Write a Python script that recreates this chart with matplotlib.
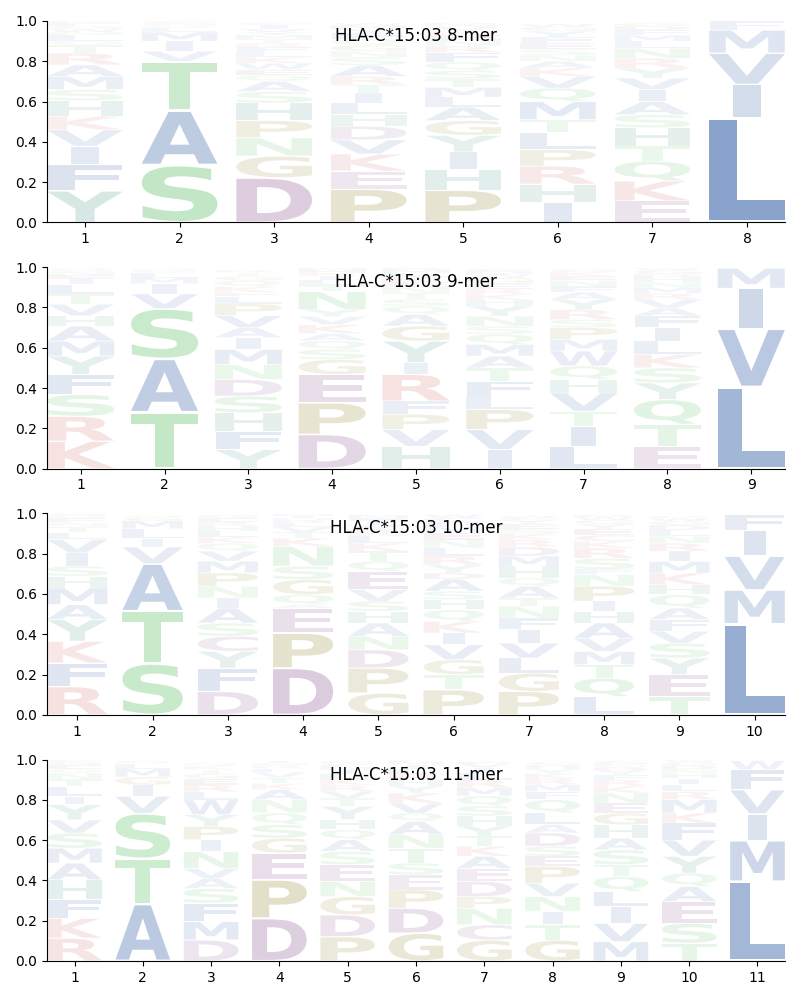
import matplotlib
matplotlib.use('Agg')
import matplotlib.pyplot as plt
from matplotlib.textpath import TextPath
from matplotlib.patches import PathPatch
from matplotlib.font_manager import FontProperties
from matplotlib.transforms import Affine2D


titles = ['HLA-C*15:03 8-mer', 'HLA-C*15:03 9-mer',
          'HLA-C*15:03 10-mer', 'HLA-C*15:03 11-mer']

# letters of each position, bottom -> top, with their heights
letters_8mer = ['YFIVKHSMARTQLNWGEDP', 'SATVIMLQGC', 'DGNPHSAQEWKLFRTMYVIC',
                'PEKVDHLITRASNGQFYMW', 'PHIYGALMTSQFRNEKVWD', 'IHRPLTMQVKANSEFYGW',
                'EKQTHSAIVYRNLMFDG', 'LIVMF']
heights_8mer = [
    [.157, .131, .091, .081, .067, .078, .055, .065, .057, .058, .04, .02, .03, .015, .015, .015, .01, .01, .005],
    [.285, .27, .245, .05, .05, .045, .02, .015, .01, .01],
    [.222, .108, .09, .086, .087, .057, .05, .03, .03, .03, .03, .025, .025, .02, .02, .02, .015, .015, .02, .01],
    [.165, .09, .085, .07, .068, .057, .058, .049, .042, .041, .055, .04, .03, .03, .03, .03, .02, .02, .01],
    [.16, .105, .085, .083, .073, .067, .049, .049, .042, .041, .042, .048, .032, .03, .025, .02, .02, .01, .01],
    [.1, .09, .09, .082, .083, .065, .09, .067, .058, .041, .034, .03, .03, .03, .03, .03, .02, .015],
    [.107, .099, .099, .074, .091, .065, .065, .06, .057, .049, .049, .05, .035, .03, .025, .02, .015],
    [.52, .165, .155, .115, .045],
]

letters_9mer = ['KRSFYMAHVTLIENQ', 'TASVIMLGQ', 'YFHSDNMIAVPLEKQGTR',
                'DPEGSQAKVYNTLIRHM', 'HVPFRIYGAQSTNEKLMD', 'IVPLFTAMQSNYHKREGWDC',
                'LITVHQWMPSRYAFNEKG', 'ETQYSKLIFAVRMNHDGW', 'LVIM']
heights_9mer = [
    [.136, .124, .108, .1, .091, .074, .075, .05, .058, .05, .049, .025, .02, .02, .015],
    [.28, .265, .25, .073, .05, .03, .025, .01, .01],
    [.095, .091, .091, .083, .083, .074, .075, .058, .05, .06, .058, .036, .02, .03, .03, .02, .02, .01],
    [.17, .157, .141, .074, .05, .043, .035, .045, .04, .035, .09, .03, .025, .02, .015, .015, .01],
    [.11, .084, .076, .065, .133, .058, .107, .075, .058, .04, .035, .03, .03, .025, .025, .02, .015, .01],
    [.095, .099, .1, .066, .074, .066, .059, .058, .05, .04, .05, .05, .03, .03, .025, .025, .03, .02, .015, .01],
    [.11, .1, .075, .091, .067, .067, .074, .058, .058, .04, .05, .05, .035, .03, .03, .02, .02, .015],
    [.11, .11, .123, .083, .074, .067, .066, .067, .058, .04, .042, .03, .03, .025, .025, .015, .02, .01],
    [.405, .29, .2, .1],
]

letters_10mer = ['RFKYAMHSIVLTNEQG', 'STAVILMGQ', 'DFYCSAINPMVQKLHREG',
                 'DPEAQGSNKTVLRHIM', 'GPDNAHSVEQTKLRYIFM', 'PTGVIKQHSADYRLNEMFCW',
                 'PGLVIFNTAQHMDRKSEYCW', 'LQTMVAHIPNFSRKCEYGWD', 'TEYSVFAQHKMIRNLDGWP',
                 'LMVIF']
heights_10mer = [
    [.14, .117, .108, .108, .074, .083, .058, .05, .066, .066, .035, .03, .02, .02, .015, .01],
    [.255, .26, .235, .083, .041, .05, .04, .015, .01],
    [.116, .116, .083, .075, .066, .074, .05, .058, .067, .058, .049, .04, .03, .03, .025, .02, .02, .015],
    [.232, .174, .124, .017, .05, .075, .066, .099, .04, .03, .025, .02, .015, .01, .01, .01],
    [.108, .124, .091, .067, .066, .058, .05, .058, .09, .05, .05, .04, .035, .03, .025, .02, .015, .015],
    [.124, .076, .074, .074, .058, .058, .058, .05, .042, .06, .03, .04, .045, .04, .04, .035, .03, .025, .02, .015],
    [.116, .091, .075, .074, .067, .057, .06, .04, .058, .042, .058, .05, .045, .035, .03, .025, .025, .02, .01, .01],
    [.09, .092, .067, .066, .065, .076, .058, .05, .075, .058, .025, .055, .05, .035, .03, .03, .025, .02, .015, .01],
    [.09, .11, .082, .074, .059, .058, .057, .066, .05, .058, .058, .05, .04, .035, .03, .025, .02, .015, .01],
    [.452, .168, .168, .128, .077],
]

letters_11mer = ['RKFHAMSVYILTNQEGP', 'ATSVIGMLQ', 'DMFSAVNIPYWLREGTKQ',
                 'DPEGSQNAKTVLRHI', 'PDGNESAQHYTVRKLIMFWC', 'GDPESTNAQVKYHRLIMF',
                 'GCNPDEAKTYHSQMRLIVF', 'GTINVPESDALQFMRKYHWC', 'MVILQTSAHGENKRFYDWPC',
                 'TSEAQYVFKMRLIHNDGW', 'LMIVFW']
heights_11mer = [
    [.113, .099, .091, .1, .083, .074, .075, .065, .076, .041, .05, .035, .03, .02, .02, .015, .01],
    [.283, .225, .225, .085, .056, .04, .04, .025, .015],
    [.104, .092, .091, .073, .05, .05, .084, .058, .066, .058, .074, .04, .035, .03, .025, .02, .02, .015],
    [.212, .191, .133, .074, .067, .058, .066, .05, .03, .03, .025, .02, .015, .01, .01],
    [.12, .109, .091, .075, .083, .066, .058, .05, .05, .066, .04, .035, .03, .03, .025, .02, .015, .01, .01, .01],
    [.138, .124, .091, .075, .058, .074, .067, .066, .041, .05, .05, .035, .03, .03, .025, .02, .015, .01],
    [.104, .076, .082, .058, .075, .065, .06, .05, .05, .05, .05, .05, .05, .04, .04, .035, .025, .02, .01],
    [.104, .076, .065, .075, .066, .084, .05, .05, .066, .041, .058, .066, .04, .035, .03, .025, .02, .015, .01, .01],
    [.096, .091, .083, .075, .075, .058, .074, .058, .066, .058, .05, .05, .035, .03, .025, .02, .015, .01, .015, .01],
    [.088, .099, .108, .075, .066, .084, .08, .085, .05, .066, .04, .035, .03, .025, .02, .02, .015, .01],
    [.395, .203, .132, .12, .1, .045],
]

panels = [(letters_8mer, heights_8mer), (letters_9mer, heights_9mer),
          (letters_10mer, heights_10mer), (letters_11mer, heights_11mer)]

# colour groups
COLORS = {}
for aa in 'AVLIMFW':
    COLORS[aa] = '#4f74b2'
for aa in 'STNQ':
    COLORS[aa] = '#63c26a'
for aa in 'DEC':
    COLORS[aa] = '#915e98'
for aa in 'KR':
    COLORS[aa] = '#d0716c'
for aa in 'PG':
    COLORS[aa] = '#978e37'
for aa in 'HY':
    COLORS[aa] = '#529d8b'

FP = FontProperties(family='DejaVu Sans', weight='bold')
_paths = {}


def glyph(ch):
    if ch not in _paths:
        _paths[ch] = TextPath((0, 0), ch, size=1, prop=FP)
    return _paths[ch]


E_WIDTH = glyph('E').get_extents().width


def draw_letter(ax, ch, x, bottom, h, width=0.8, vpad=0.05):
    path = glyph(ch)
    ext = path.get_extents()
    sx = width / max(ext.width, E_WIDTH)
    w = ext.width * sx
    hh = h * (1 - vpad)
    tr = (Affine2D().translate(-ext.x0, -ext.y0)
          .scale(sx, hh / ext.height)
          .translate(x - w / 2, bottom + h * vpad / 2))
    alpha = min(1.0, 0.04 + 1.2 * h)
    ax.add_patch(PathPatch(tr.transform_path(path), facecolor=COLORS[ch],
                           edgecolor='none', alpha=alpha))


def main():
    fig, axes = plt.subplots(4, 1, figsize=(8, 10), dpi=100)
    fig.subplots_adjust(left=0.059, right=0.981, top=0.979, bottom=0.039, hspace=0.222)
    for ax, title, (letters, heights) in zip(axes, titles, panels):
        n = len(letters)
        for i, (lets, hs) in enumerate(zip(letters, heights)):
            bottom = 0.0
            for ch, h in zip(lets, hs):
                draw_letter(ax, ch, i + 1, bottom, h)
                bottom += h
        ax.set_xlim(0.6, n + 0.4)
        ax.set_ylim(0, 1)
        ax.set_xticks(range(1, n + 1))
        ax.set_yticks([0, 0.2, 0.4, 0.6, 0.8, 1.0])
        ax.spines['top'].set_visible(False)
        ax.spines['right'].set_visible(False)
        ax.text(0.5, 0.925, title, transform=ax.transAxes, ha='center', va='center', fontsize=12)
    plt.savefig('out.png')


if __name__ == '__main__':
    main()
